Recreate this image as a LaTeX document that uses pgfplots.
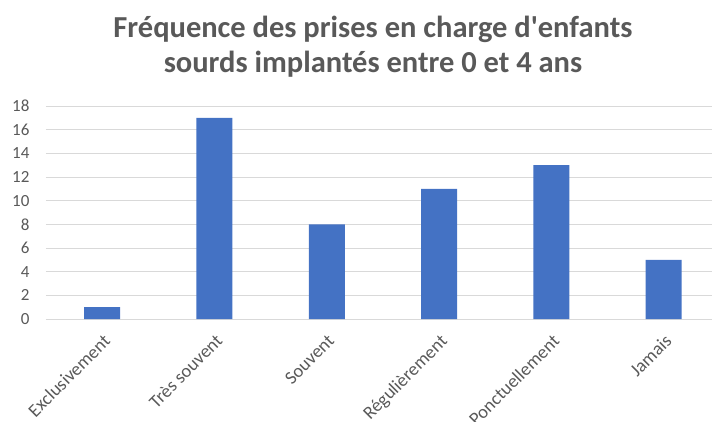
\documentclass[border=0pt]{standalone}
\usepackage{pgfplots}
\pgfplotsset{compat=1.18}
\usepackage{fontspec}
\setmainfont{Carlito}[Ligatures=TeXOff]
\definecolor{barblue}{HTML}{4472C4}
\definecolor{txtgrey}{HTML}{595959}
\definecolor{gridgrey}{HTML}{D9D9D9}
\begin{document}
\begin{tikzpicture}
\path[use as bounding box] (-46pt,-102pt) rectangle (666pt,319pt);
\begin{axis}[
  at={(0pt,0pt)}, anchor=south west,
  scale only axis, width=666pt, height=213pt,
  xmin=-0.5, xmax=5.43, ymin=0, ymax=18,
  ytick={0,2,...,18},
  xtick=data,
  xticklabels={Exclusivement,Très souvent,Souvent,Régulièrement,Ponctuellement,Jamais},
  xticklabel style={rotate=45, anchor=north east, font=\fontsize{18.5}{20}\selectfont, text=txtgrey, inner sep=1pt, yshift=-9pt, xshift=-9pt},
  yticklabel style={font=\fontsize{17}{19}\selectfont, text=txtgrey, xshift=-13pt},
  /pgf/number format/assume math mode=true,
  major tick length=0pt,
  axis line style={draw=none},
  ymajorgrids, major grid style={gridgrey, line width=0.8pt},
  ybar, bar width=36pt,
  clip=false,
]
\addplot[fill=barblue, draw=none] coordinates {(0,1) (1,17) (2,8) (3,11) (4,13) (5,5)};
\end{axis}
\node[anchor=base, text=txtgrey, font=\bfseries\fontsize{30.5}{36}\selectfont, inner sep=0pt] at (327pt,281pt) {Fréquence des prises en charge d'enfants};
\node[anchor=base, text=txtgrey, font=\bfseries\fontsize{30.5}{36}\selectfont, inner sep=0pt] at (327pt,246pt) {sourds implantés entre 0 et 4 ans};
\end{tikzpicture}
\end{document}
